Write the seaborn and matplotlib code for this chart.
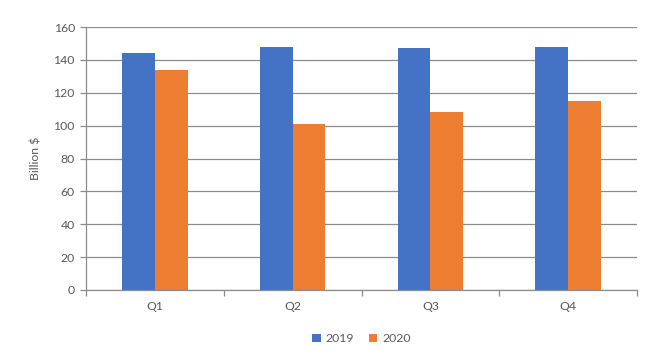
import pandas as pd
import matplotlib
matplotlib.use("Agg")
import matplotlib.pyplot as plt
import seaborn as sns

quarters = ["Q1", "Q2", "Q3", "Q4"]
years = ["2019", "2020"]
values_2019 = [144.3, 147.8, 147.4, 148.0]
values_2020 = [133.8, 100.9, 108.3, 115.2]
colors = ["#4472C4", "#ED7D31"]

data = pd.DataFrame({
    "quarter": quarters * 2,
    "year": [years[0]] * 4 + [years[1]] * 4,
    "value": values_2019 + values_2020,
})

sns.set_style("white")
plt.rcParams["font.family"] = ["Lato", "DejaVu Sans"]
text_color = "#595959"
grid_color = "#8C8C8C"
fs = 8.8

fig = plt.figure(figsize=(6.64, 3.6), dpi=100)
ax = fig.add_axes([86 / 664, 70 / 360, 551 / 664, 263 / 360])

sns.barplot(data=data, x="quarter", y="value", hue="year", palette=colors,
            width=0.475, saturation=1, linewidth=0, ax=ax, legend=True)

ax.set_xlim(-0.5, 3.5)
ax.set_ylim(0, 160)
ax.set_yticks(range(0, 161, 20))
ax.yaxis.grid(True, color=grid_color, linewidth=0.9)
ax.set_axisbelow(True)

for side in ["top", "right"]:
    ax.spines[side].set_visible(False)
for side in ["left", "bottom"]:
    ax.spines[side].set_color(grid_color)
    ax.spines[side].set_linewidth(0.9)

ax.set_xticks([-0.5, 0.5, 1.5, 2.5, 3.5], minor=True)
ax.tick_params(axis="x", which="major", length=0, pad=8, labelsize=fs, labelcolor=text_color)
ax.tick_params(axis="x", which="minor", length=4, width=0.9, color=grid_color, direction="out")
ax.tick_params(axis="y", length=4, width=0.9, color=grid_color, direction="out",
               labelsize=fs, labelcolor=text_color, pad=4)
ax.tick_params(left=True, bottom=True, which="both")

ax.set_xlabel("")
ax.set_ylabel("Billion $", fontsize=fs, color=text_color, labelpad=9)

handles, labels = ax.get_legend_handles_labels()
ax.legend(handles, labels, loc="center", bbox_to_anchor=(0.5, -0.185), ncol=2,
          frameon=False, fontsize=fs, labelcolor=text_color, handlelength=0.7,
          handleheight=0.7, handletextpad=0.4, columnspacing=1.2)

fig.savefig("out.png", dpi=100)
